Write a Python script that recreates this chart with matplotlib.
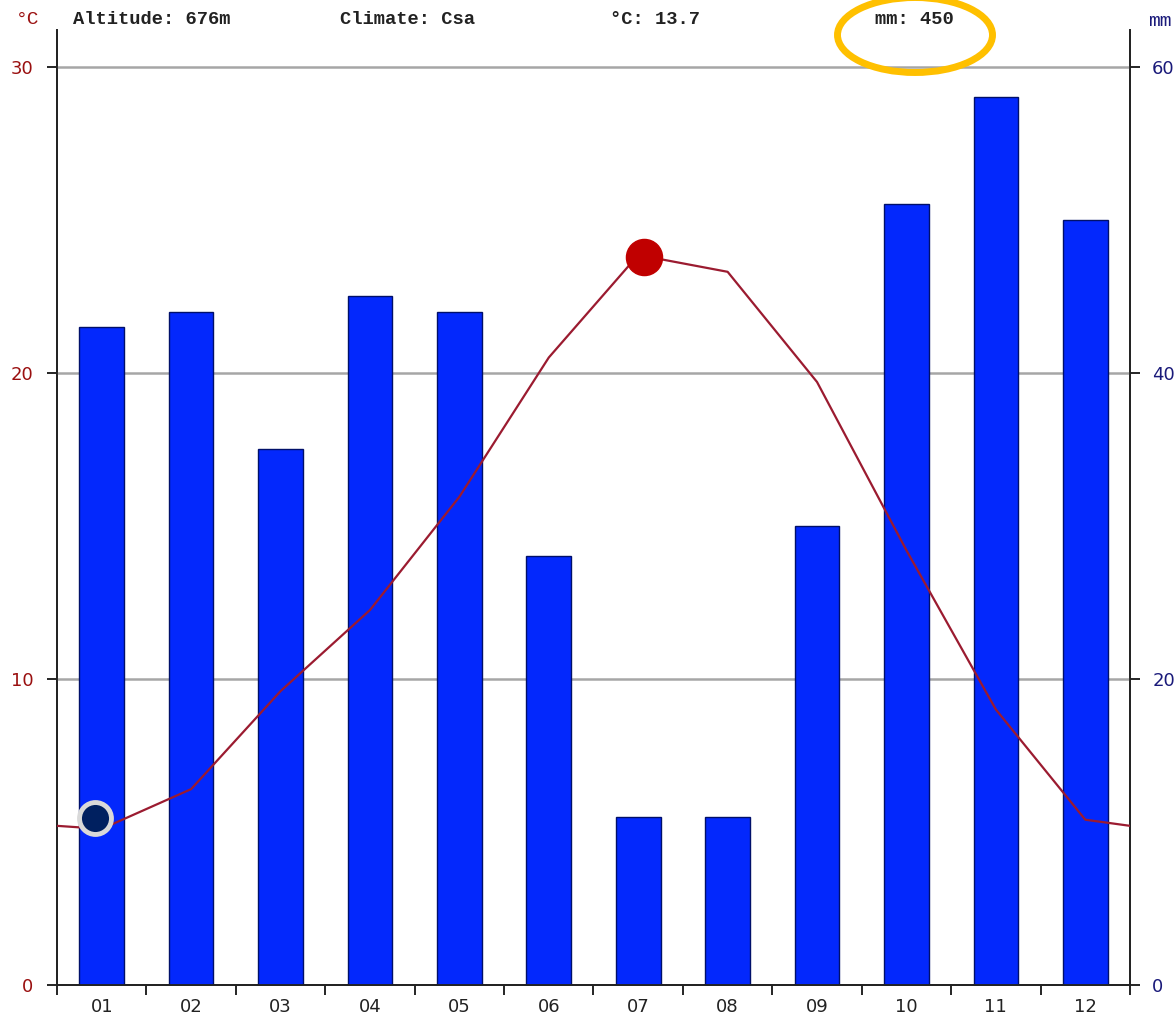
import matplotlib
matplotlib.use("Agg")
import matplotlib.pyplot as plt
from matplotlib.patches import Ellipse

# monthly climate values
months = ["01", "02", "03", "04", "05", "06", "07", "08", "09", "10", "11", "12"]
precip_mm = [43, 44, 35, 45, 44, 28, 11, 11, 30, 51, 58, 50]
temp_c = [5.1, 6.4, 9.6, 12.25, 15.95, 20.5, 23.85, 23.3, 19.7, 14.2, 9.0, 5.4]
edge_temp = 5.2  # where the line meets both axes
temp_ticks = [0, 10, 20, 30]
precip_ticks = [0, 20, 40, 60]
header = ["Altitude: 676m", "Climate: Csa", "°C: 13.7", "mm: 450"]

red_txt = "#9A1010"
navy_txt = "#1A1A7A"

fig = plt.figure(figsize=(11.74, 10.16), dpi=100)
ax = fig.add_axes([57 / 1174, 1 - 985 / 1016, (1130 - 57) / 1174, (985 - 30) / 1016])
ax2 = ax.twinx()

x = list(range(1, 13))

# precipitation bars on the right axis
ax2.bar(x, precip_mm, width=0.5, color="#0328FC", edgecolor="#00106A", linewidth=1, zorder=2)
ax2.set_ylim(0, 62.4)

# gridlines for temperature
for t in temp_ticks[1:]:
    ax2.axhline(t * 2, color="#A6A6A6", lw=1.8, zorder=1)

# temperature line, drawn on ax2 scale so it sits above the bars
line_x = [0.5] + x + [12.5]
line_y = [edge_temp] + temp_c + [edge_temp]
ax2.plot(line_x, [v * 2 for v in line_y], color="#9B1B30", lw=1.6, zorder=3)

imax = temp_c.index(max(temp_c))
imin = temp_c.index(min(temp_c))
ax2.plot(x[imax] + 0.07, temp_c[imax] * 2 - 0.1, "o", ms=26, color="#C00000", mec="#C00000", zorder=4)
ax2.plot(x[imin] - 0.07, temp_c[imin] * 2 + 0.7, "o", ms=23, color="#002060", mec="#D9D9D9", mew=3.5, zorder=4)

ax.set_ylim(0, 31.2)
ax.set_xlim(0.5, 12.5)
ax2.set_xlim(0.5, 12.5)

ax.set_yticks(temp_ticks)
ax.set_yticklabels([str(t) for t in temp_ticks], color=red_txt, fontsize=13)
ax2.set_yticks(precip_ticks)
ax2.set_yticklabels([str(p) for p in precip_ticks], color=navy_txt, fontsize=13)

ax.set_xticks([i + 0.5 for i in range(0, 13)])
ax.set_xticklabels([])
ax.set_xticks(x, minor=True)
ax.set_xticklabels(months, minor=True, fontsize=13, color="#222222")
ax.tick_params(axis="x", which="major", length=7, direction="out", width=1.2)
ax.tick_params(axis="x", which="minor", length=0, pad=9)
ax.tick_params(axis="y", length=7, width=1.2, pad=10)
ax2.tick_params(axis="y", length=7, width=1.2, pad=9)

for a in (ax, ax2):
    a.spines["top"].set_visible(False)
    for s in ("left", "right", "bottom"):
        a.spines[s].set_linewidth(1.3)
        a.spines[s].set_color("#222222")

# header texts
fig.text(28 / 1174, 1 - 20 / 1016, "°C", color=red_txt, fontsize=14, family="Liberation Mono", va="center", ha="center")
fig.text(1160 / 1174, 1 - 22 / 1016, "mm", color=navy_txt, fontsize=14, family="Liberation Mono", va="center", ha="center")
for txt, px in zip(header, [73, 340, 610, 875]):
    fig.text(px / 1174, 1 - 20 / 1016, txt, fontsize=13.5, family="Liberation Mono", fontweight="bold",
             va="center", ha="left", color="#222222")

# highlight circle round the rainfall total
fig.patches.append(Ellipse((915 / 1174, 1 - 35 / 1016), 155 / 1174, 75 / 1016,
                           transform=fig.transFigure, fill=False, edgecolor="#FFC000", lw=5))

fig.savefig("out.png", dpi=100)
